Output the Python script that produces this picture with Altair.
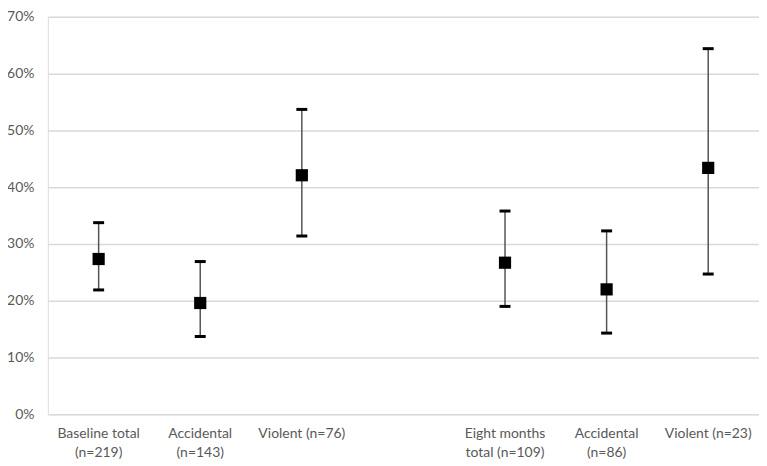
import altair as alt
import pandas as pd

categories = ["Baseline total|(n=219)", "Accidental|(n=143)", "Violent (n=76)", " ",
              "Eight months|total (n=109)", "Accidental |(n=86)", "Violent (n=23)"]
estimate = [0.2735, 0.196, 0.421, None, 0.267, 0.220, 0.434]
lower = [0.219, 0.137, 0.314, None, 0.190, 0.143, 0.247]
upper = [0.3375, 0.269, 0.537, None, 0.358, 0.323, 0.644]

rows = []
for c, e, lo, hi in zip(categories, estimate, lower, upper):
    if e is not None:
        rows.append({"cat": c, "est": e, "lo": lo, "hi": hi})
df = pd.DataFrame(rows)

FONT = "Lato"
xenc = alt.X("cat:N", sort=categories,
             scale=alt.Scale(domain=categories, paddingInner=0, paddingOuter=0),
             axis=alt.Axis(title=None, labelAngle=0, domain=False, ticks=False, grid=False,
                           labelPadding=12, labelFontSize=14, labelColor="#595959",
                           labelFont=FONT, labelLineHeight=19,
                           labelExpr="split(datum.label, '|')"))
yscale = alt.Scale(domain=[0, 0.7], nice=False)

base = alt.Chart(df)

rules = base.mark_rule(color="#555555", strokeWidth=1.5).encode(
    x=xenc,
    y=alt.Y("lo:Q", scale=yscale,
            axis=alt.Axis(title=None, format=".0%", values=[0, 0.1, 0.2, 0.3, 0.4, 0.5, 0.6, 0.7],
                          domain=False, ticks=False, labelPadding=14, labelFontSize=14,
                          labelColor="#595959", labelFont=FONT,
                          gridColor="#d9d9d9", gridWidth=1.5)),
    y2="hi:Q",
)
cap_lo = base.mark_tick(color="black", thickness=3, size=11, opacity=1).encode(
    x=xenc, y=alt.Y("lo:Q", scale=yscale))
cap_hi = base.mark_tick(color="black", thickness=3, size=11, opacity=1).encode(
    x=xenc, y=alt.Y("hi:Q", scale=yscale))
points = base.mark_square(color="black", size=150, opacity=1).encode(
    x=xenc, y=alt.Y("est:Q", scale=yscale))

chart = alt.layer(rules, cap_lo, cap_hi, points).properties(
    width=714, height=399,
    autosize=alt.AutoSizeParams(type="none"),
    padding={"left": 40, "top": 8, "right": 0, "bottom": 45},
).configure_view(strokeWidth=0, stroke="transparent").configure(background="white")

chart.save("out.html", embed_options={"renderer": "svg", "actions": False})
